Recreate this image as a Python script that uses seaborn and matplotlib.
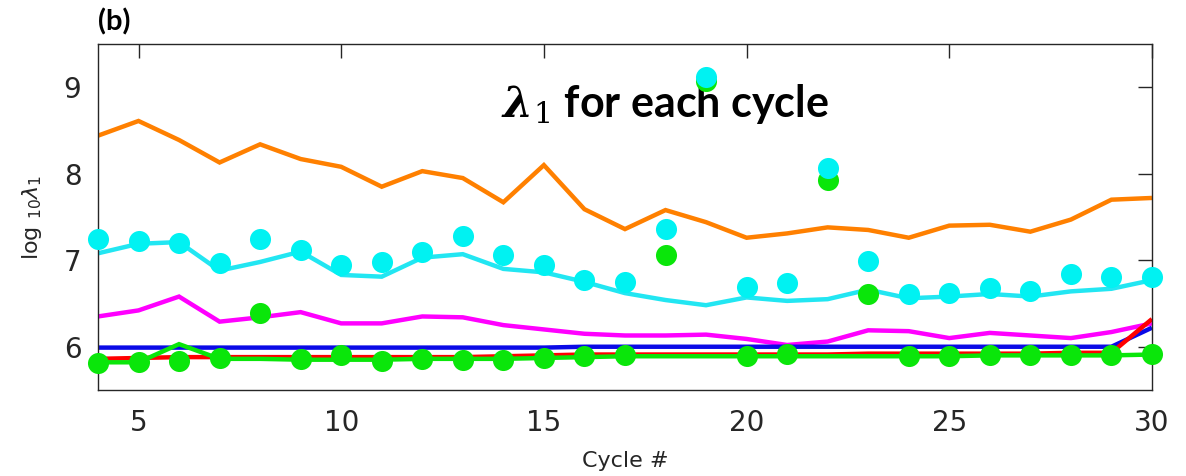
import numpy as np
import pandas as pd
import matplotlib
matplotlib.use("Agg")
import matplotlib.pyplot as plt
import seaborn as sns

cycles = list(range(4, 31))

orange_line = [8.44, 8.61, 8.39, 8.13, 8.34, 8.17, 8.08, 7.85, 8.03, 7.95, 7.67, 8.10, 7.59, 7.36,
               7.58, 7.44, 7.26, 7.31, 7.38, 7.35, 7.26, 7.40, 7.41, 7.33, 7.47, 7.70, 7.72]
cyan_line = [7.08, 7.19, 7.21, 6.88, 6.98, 7.10, 6.83, 6.81, 7.03, 7.07, 6.90, 6.86, 6.75, 6.62,
             6.54, 6.48, 6.57, 6.53, 6.55, 6.66, 6.56, 6.58, 6.61, 6.58, 6.64, 6.67, 6.77]
magenta_line = [6.35, 6.42, 6.58, 6.29, 6.34, 6.40, 6.27, 6.27, 6.35, 6.34, 6.25, 6.20, 6.15, 6.13,
                6.13, 6.14, 6.09, 6.02, 6.06, 6.19, 6.18, 6.10, 6.16, 6.13, 6.10, 6.17, 6.27]
blue_line = [5.99, 5.99, 5.99, 5.99, 5.99, 5.99, 5.99, 5.99, 5.99, 5.99, 5.99, 5.99, 6.00, 6.00,
             6.00, 6.00, 6.00, 6.00, 6.00, 6.00, 6.00, 6.00, 6.00, 6.00, 6.00, 6.00, 6.22]
red_line = [5.86, 5.87, 5.88, 5.88, 5.88, 5.88, 5.88, 5.88, 5.88, 5.88, 5.89, 5.90, 5.91, 5.91,
            5.91, 5.91, 5.91, 5.91, 5.91, 5.92, 5.92, 5.92, 5.92, 5.92, 5.93, 5.93, 6.32]
green_line = [5.82, 5.82, 6.03, 5.86, 5.86, 5.85, 5.85, 5.85, 5.86, 5.86, 5.86, 5.87, 5.88, 5.89,
              5.89, 5.89, 5.89, 5.89, 5.89, 5.89, 5.89, 5.89, 5.90, 5.90, 5.90, 5.90, 5.91]
cyan_dots = [7.24, 7.22, 7.20, 6.97, 7.24, 7.12, 6.94, 6.98, 7.09, 7.28, 7.06, 6.95, 6.77, 6.75,
             7.36, 9.12, 6.69, 6.74, 8.07, 6.99, 6.61, 6.62, 6.68, 6.64, 6.84, 6.81, 6.81]
green_dots = [5.81, 5.82, 5.84, 5.87, 6.39, 5.86, 5.91, 5.83, 5.86, 5.85, 5.85, 5.87, 5.89, 5.90,
              7.06, 9.07, 5.89, 5.92, 7.93, 6.61, 5.89, 5.89, 5.90, 5.90, 5.91, 5.91, 5.92]

x_ticks = [5, 10, 15, 20, 25, 30]
y_ticks = [6, 7, 8, 9]

sns.set_style("white")
plt.rcParams["font.family"] = ["DejaVu Sans"]

fig = plt.figure(figsize=(11.86, 4.76), dpi=100)
ax = fig.add_axes([0.0826, 0.1807, 0.9713 - 0.0826, 0.9076 - 0.1807])

lines = [
    (orange_line, "#FF8000"),
    (cyan_line, "#22E6F2"),
    (magenta_line, "#FF00FF"),
    (blue_line, "#0A0AE6"),
    (red_line, "#FF0000"),
    (green_line, "#0AE60A"),
]
for vals, col in lines:
    sns.lineplot(x=cycles, y=vals, color=col, linewidth=3.2, ax=ax,
                 solid_joinstyle="miter", solid_capstyle="butt")

sns.scatterplot(x=cycles, y=green_dots, color="#0AE60A", s=230, linewidth=0, ax=ax,
                zorder=3, clip_on=False)
sns.scatterplot(x=cycles, y=cyan_dots, color="#00F2F2", s=230, linewidth=0, ax=ax,
                zorder=4, clip_on=False)

ax.set_xlim(4, 30)
ax.set_ylim(5.5, 9.5)
ax.set_xticks(x_ticks)
ax.set_yticks(y_ticks)
ax.tick_params(direction="in", top=True, right=True, length=10, width=1,
               color="#262626", labelcolor="#262626", labelsize=20)
ax.tick_params(axis="x", pad=14)
ax.tick_params(axis="y", pad=12)
for sp in ax.spines.values():
    sp.set_color("#262626")
    sp.set_linewidth(1.0)

ax.set_xlabel("Cycle #", fontsize=16, color="#262626", labelpad=10)
ax.set_ylabel(r"log $_{10}\lambda_1$", fontsize=16, color="#262626", labelpad=14)

fig.text(0.0826, 0.925, "(b)", fontsize=21, fontweight="bold", family="Lato",
         color="black", ha="left", va="bottom")
ax.text(0.538, 0.79, r"$\mathbfit{\lambda}_{\mathrm{1}}$ for each cycle", transform=ax.transAxes,
        fontsize=31, fontweight="bold", family="Lato", math_fontfamily="dejavuserif",
        color="black", ha="center", va="baseline", zorder=2)

fig.savefig("out.png", dpi=100)
